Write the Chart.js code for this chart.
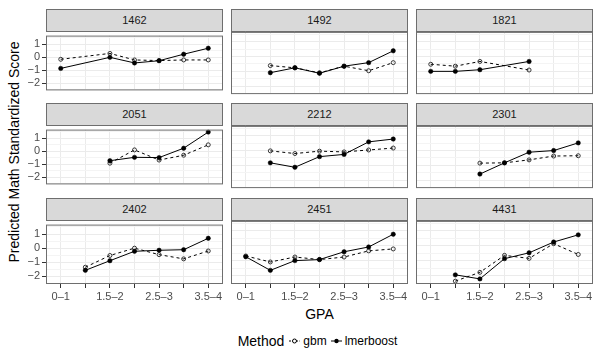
<!DOCTYPE html>
<html>
<head>
<meta charset="utf-8">
<script src="https://cdn.jsdelivr.net/npm/chart.js@4.4.1/dist/chart.umd.min.js"></script>
<style>
    body { margin: 0; background: #fff; font-family: "Liberation Sans", Arial, sans-serif; }
    #fig { position: relative; width: 600px; height: 360px; overflow: hidden; }
    .strip {
        position: absolute; background: #d9d9d9; border: 1px solid #6e6e6e; box-sizing: border-box;
        font-size: 11px; color: #1a1a1a; text-align: center;
    }
    canvas { position: absolute; }
    #ytitle {
        position: absolute; left: 14px; top: 152px; transform: translate(-50%, -50%) rotate(-90deg);
        font-size: 14px; white-space: nowrap; color: #000;
    }
    #xtitle { position: absolute; left: 0; width: 639px; top: 306px; text-align: center; font-size: 14px; color: #000; }
    #legend {
        position: absolute; left: 0; width: 639px; top: 333px; display: flex; justify-content: center;
        align-items: center; color: #000;
    }
    #legend .title { font-size: 14px; margin-right: 5px; }
    #legend .lab { font-size: 12px; margin: 0 4px 0 3px; }
    #legend svg { display: block; }
</style>
</head>
<body>
<div id="fig">
    <div id="ytitle">Predicted Math Standardized Score</div>
    <div id="xtitle">GPA</div>
    <div id="legend">
        <span class="title">Method</span>
        <svg width="11" height="10"><line x1="0" y1="5" x2="11" y2="5" stroke="#000" stroke-width="1" stroke-dasharray="2,1.5"/><circle cx="5.5" cy="5" r="2" fill="#fff" stroke="#000" stroke-width="1"/></svg>
        <span class="lab">gbm</span>
        <svg width="11" height="10"><line x1="0" y1="5" x2="11" y2="5" stroke="#000" stroke-width="1"/><circle cx="5.5" cy="5" r="2.2" fill="#000"/></svg>
        <span class="lab">lmerboost</span>
    </div>
</div>
<script>
// Facet ids (schools) in grid order
const panelIds = ['1462', '1492', '1821', '2051', '2212', '2301', '2402', '2451', '4431'];

// GPA bins on the x axis, and the labels actually printed
const gpaBins = ['0–1', '1–1.5', '1.5–2', '2–2.5', '2.5–3', '3–3.5', '3.5–4'];
const xTickLabels = ['0–1', '', '1.5–2', '', '2.5–3', '', '3.5–4'];

// y axis ticks
const yTicks = [-2, -1, 0, 1];

// predicted scores per panel, one value per GPA bin (null = no data)
const gbmValues = [
    [-0.15, null, 0.30, -0.20, -0.25, -0.20, -0.20],
    [null, -0.61, -0.76, -1.10, -0.65, -0.96, -0.41],
    [-0.52, -0.65, -0.33, null, -0.91, null, null],
    [null, null, -0.91, 0.11, -0.67, -0.30, 0.50],
    [null, -0.02, -0.20, -0.04, -0.09, 0.04, 0.17],
    [null, null, -0.85, -0.83, -0.63, -0.37, -0.35],
    [null, -1.35, -0.52, 0.00, -0.46, -0.76, -0.20],
    [-0.67, -1.07, -0.74, -0.91, -0.74, -0.33, -0.20],
    [null, -2.35, -1.76, -0.63, -0.83, 0.15, -0.57]
];
const lmerboostValues = [
    [-0.85, null, 0.00, -0.43, -0.26, 0.24, 0.70],
    [null, -1.09, -0.76, -1.13, -0.65, -0.41, 0.39],
    [-1.00, -1.00, -0.89, null, -0.33, null, null],
    [null, null, -0.72, -0.46, -0.48, 0.24, 1.48],
    [null, -0.83, -1.13, -0.41, -0.26, 0.59, 0.78],
    [null, null, -1.59, -0.83, -0.11, 0.00, 0.52],
    [null, -1.57, -0.89, -0.22, -0.15, -0.11, 0.70],
    [-0.72, -1.63, -0.98, -0.91, -0.39, -0.07, 0.78],
    [null, -1.93, -2.20, -0.85, -0.46, 0.26, 0.74]
];

// layout of the facet grid
const colLeft = [46, 231, 416];
const stripTop = [9, 103, 198];
const plotW = 177;
const stripH = 22;
const plotH = 64;
const fontFamily = '"Liberation Sans", Arial, sans-serif';

const fmtNum = (v) => (v < 0 ? '\u2212' + Math.abs(v) : String(v));

const toPoints = (vals) => vals
    .map((v, i) => (v === null ? null : { x: i, y: v }))
    .filter(Boolean);

// draw the panel frame on top of everything
const panelBorder = {
    id: 'panelBorder',
    afterDraw(chart) {
        const { ctx, chartArea: a } = chart;
        ctx.save();
        ctx.strokeStyle = '#6e6e6e';
        ctx.lineWidth = 1;
        ctx.strokeRect(a.left + 0.5, a.top + 0.5, a.width - 1, a.height - 1);
        ctx.restore();
    }
};

// major lines at the ticks, minor lines half way between
const yGrid = yTicks.flatMap(v => [v - 0.5, v]).concat([yTicks[yTicks.length - 1] + 0.5]);

const fig = document.getElementById('fig');

panelIds.forEach((id, p) => {
    const r = Math.floor(p / 3);
    const c = p % 3;
    const plotTop = stripTop[r] + stripH;

    // strip
    const strip = document.createElement('div');
    strip.className = 'strip';
    strip.style.left = colLeft[c] + 'px';
    strip.style.top = stripTop[r] + 'px';
    strip.style.width = plotW + 'px';
    strip.style.height = (stripH + 1) + 'px';
    strip.style.lineHeight = (stripH - 1) + 'px';
    strip.textContent = id;
    fig.appendChild(strip);

    // canvas sized so that its chart area is the panel
    const padL = c === 0 ? 46 : 8;
    const padR = 8;
    const padT = 4;
    const padB = r === 2 ? 22 : 4;
    const canvas = document.createElement('canvas');
    canvas.width = plotW + padL + padR;
    canvas.height = plotH + padT + padB;
    canvas.style.left = (colLeft[c] - padL) + 'px';
    canvas.style.top = (plotTop - padT) + 'px';
    fig.appendChild(canvas);

    new Chart(canvas.getContext('2d'), {
        type: 'line',
        data: {
            datasets: [
                {
                    label: 'lmerboost',
                    data: toPoints(lmerboostValues[p]),
                    borderColor: '#000',
                    borderWidth: 1,
                    pointRadius: 2.2,
                    pointBackgroundColor: '#000',
                    pointBorderColor: '#000',
                    pointBorderWidth: 0.5,
                    tension: 0
                },
                {
                    label: 'gbm',
                    data: toPoints(gbmValues[p]),
                    borderColor: '#000',
                    borderWidth: 1,
                    borderDash: [3, 3],
                    pointRadius: 2,
                    pointBackgroundColor: 'rgba(0,0,0,0)',
                    pointBorderColor: '#222',
                    pointBorderWidth: 0.9,
                    tension: 0
                }
            ]
        },
        options: {
            responsive: false,
            animation: false,
            devicePixelRatio: 1,
            layout: {
                padding: { left: c === 0 ? 0 : 8, right: 8, top: 4, bottom: r === 2 ? 0 : 4 }
            },
            plugins: {
                legend: { display: false },
                tooltip: { enabled: false }
            },
            scales: {
                x: {
                    type: 'linear',
                    min: -0.6,
                    max: gpaBins.length - 0.4,
                    afterBuildTicks: (s) => { s.ticks = gpaBins.map((b, i) => ({ value: i })); },
                    afterFit: (s) => { s.height = r === 2 ? 22 : 0; },
                    ticks: {
                        display: r === 2,
                        autoSkip: false,
                        maxRotation: 0,
                        padding: 2,
                        color: '#4d4d4d',
                        font: { size: 11, family: fontFamily },
                        callback: (v) => xTickLabels[v]
                    },
                    grid: {
                        color: '#ebebeb',
                        lineWidth: 1,
                        drawTicks: r === 2,
                        tickLength: 4,
                        tickColor: '#333'
                    },
                    border: { display: false }
                },
                y: {
                    type: 'linear',
                    min: -2.54,
                    max: 1.67,
                    afterBuildTicks: (s) => { s.ticks = yGrid.map(v => ({ value: v })); },
                    afterFit: (s) => { s.width = c === 0 ? 46 : 0; },
                    ticks: {
                        display: c === 0,
                        autoSkip: false,
                        padding: 2,
                        color: '#4d4d4d',
                        font: { size: 11, family: fontFamily },
                        callback: (v) => (Number.isInteger(v) ? fmtNum(v) : '')
                    },
                    grid: {
                        color: (ctx) => (Number.isInteger(ctx.tick.value) ? '#ebebeb' : '#f4f4f4'),
                        lineWidth: 1,
                        drawTicks: c === 0,
                        tickLength: 4,
                        tickColor: (ctx) => (Number.isInteger(ctx.tick.value) ? '#333' : 'rgba(0,0,0,0)')
                    },
                    border: { display: false }
                }
            }
        },
        plugins: [panelBorder]
    });
});
</script>
</body>
</html>
